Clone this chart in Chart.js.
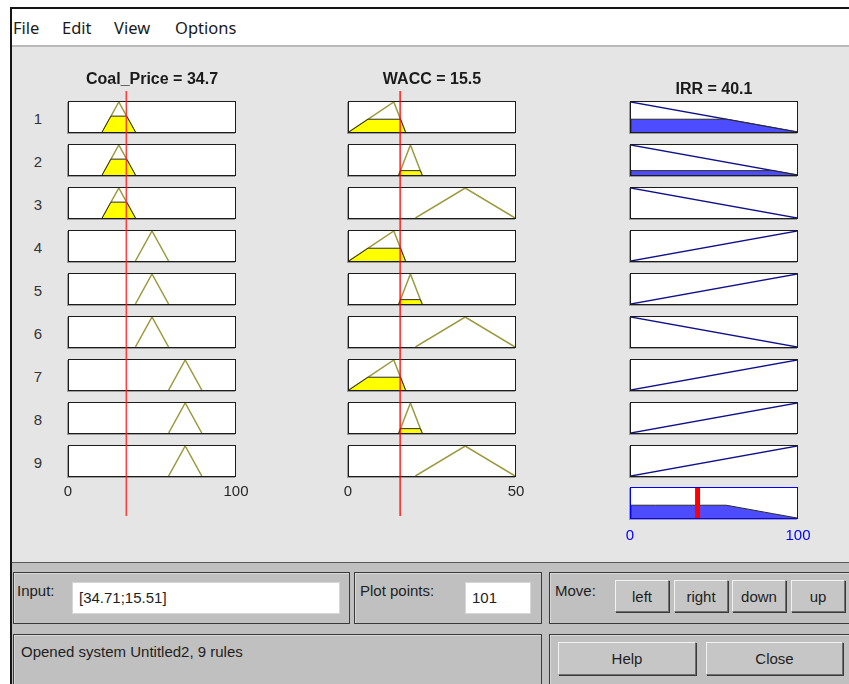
<!DOCTYPE html>
<html>
<head>
<meta charset="utf-8">
<script src="https://cdn.jsdelivr.net/npm/chart.js@4.4.0/dist/chart.umd.min.js"></script>
<style>
    html, body { margin: 0; padding: 0; }
    body {
        position: relative;
        width: 849px;
        height: 684px;
        overflow: hidden;
        background: #ffffff;
        font-family: "Liberation Sans", Arial, sans-serif;
        color: #1e1e1e;
    }
    .abs { position: absolute; }
    #frame { left: 10px; top: 7px; width: 839px; height: 677px; border-left: 2px solid #151515; border-top: 2px solid #151515; box-sizing: border-box; }
    #menu { left: 12px; top: 9px; width: 837px; height: 36px; background: #fff; border-bottom: 2px solid #b9b9b9; }
    .menu-item { top: 18px; font-family: "Noto Sans", "Open Sans", sans-serif; font-size: 16.5px; color: #1a1a1a; line-height: 20px; }
    #main { left: 12px; top: 47px; width: 837px; height: 515px; background: #e5e5e5; }
    #bottom { left: 12px; top: 562px; width: 837px; height: 122px; background: #c0c0c0; border-top: 1px solid #5a5a5a; box-sizing: border-box; }
    .rownum { width: 20px; text-align: center; font-size: 15px; color: #333; line-height: 18px; }
    .box { background: #fff; border: 1px solid #1c1c1c; box-sizing: border-box; box-shadow: -1px 1px 0 #9c9c9c; }
    .box canvas { display: block; }
    .panel { background: #c0c0c0; border: 1px solid #3a3a3a; box-sizing: border-box; box-shadow: inset 1px 1px 0 #d8d8d8; }
    .label { font-size: 15px; line-height: 18px; color: #1e1e1e; white-space: nowrap; }
    .field { background: #fff; border: 1px solid #d6d6d6; box-sizing: border-box; font-size: 15px; line-height: 29px; padding-left: 6px; white-space: nowrap; }
    .btn { background: #c6c6c6; box-sizing: border-box; border-top: 1px solid #f2f2f2; border-left: 1px solid #f2f2f2; border-right: 1px solid #6e6e6e; border-bottom: 1px solid #6e6e6e; box-shadow: 1px 1px 0 #3a3a3a; text-align: center; font-size: 15px; color: #1e1e1e; }
    canvas.overlay { pointer-events: none; }
</style>
</head>
<body>
<div id="frame" class="abs"></div>
<div id="menu" class="abs"></div>
<div class="abs menu-item" style="left:13px">File</div>
<div class="abs menu-item" style="left:62px">Edit</div>
<div class="abs menu-item" style="left:114px">View</div>
<div class="abs menu-item" style="left:175px">Options</div>
<div id="main" class="abs"></div>
<div id="bottom" class="abs"></div>
<div id="plots"></div>

<!-- 아래 패널 -->
<div class="abs panel" style="left:13px; top:572px; width:337px; height:52px"></div>
<div class="abs label" style="left:17px; top:582px">Input:</div>
<div class="abs field" style="left:72px; top:582px; width:268px; height:32px; line-height:30px">[34.71;15.51]</div>

<div class="abs panel" style="left:354px; top:572px; width:188px; height:52px"></div>
<div class="abs label" style="left:360px; top:582px">Plot points:</div>
<div class="abs field" style="left:465px; top:582px; width:66px; height:32px; line-height:30px">101</div>

<div class="abs panel" style="left:549px; top:572px; width:310px; height:52px"></div>
<div class="abs label" style="left:555px; top:582px">Move:</div>
<div class="abs btn" style="left:615px; top:580px; width:54px; height:32px; line-height:31px">left</div>
<div class="abs btn" style="left:674px; top:580px; width:54px; height:32px; line-height:31px">right</div>
<div class="abs btn" style="left:732px; top:580px; width:54px; height:32px; line-height:31px">down</div>
<div class="abs btn" style="left:791px; top:580px; width:54px; height:32px; line-height:31px">up</div>

<div class="abs panel" style="left:13px; top:634px; width:529px; height:60px"></div>
<div class="abs label" style="left:21px; top:643px">Opened system Untitled2, 9 rules</div>

<div class="abs panel" style="left:549px; top:634px; width:310px; height:60px"></div>
<div class="abs btn" style="left:558px; top:642px; width:138px; height:33px; line-height:32px">Help</div>
<div class="abs btn" style="left:706px; top:642px; width:137px; height:33px; line-height:32px">Close</div>

<script>
// 입력/출력 범위
const coalRange = [0, 100];
const waccRange = [0, 50];
const irrRange = [0, 100];

// 축 눈금
const coalTicks = [0, 100];
const waccTicks = [0, 50];
const irrTicks = [0, 100];

// 현재 입력값과 출력값
const coalInput = 34.71;
const waccInput = 15.51;
const irrOutput = 40.1;

// 멤버십 함수 (trimf)
const coalLow = [20, 30, 40];
const coalMid = [40, 50, 60];
const coalHigh = [60, 70, 80];
const waccLow = [0, 13.5, 17];
const waccMid = [15, 18.5, 22];
const waccHigh = [20, 35, 50];
const irrDown = [-100, 0, 100];
const irrUp = [0, 100, 200];

// 규칙 1~9
const ruleNumbers = [1, 2, 3, 4, 5, 6, 7, 8, 9];
const ruleCoal = ['low', 'low', 'low', 'mid', 'mid', 'mid', 'high', 'high', 'high'];
const ruleWacc = ['low', 'mid', 'high', 'low', 'mid', 'high', 'low', 'mid', 'high'];
const ruleIrr = ['down', 'down', 'down', 'up', 'up', 'down', 'up', 'up', 'up'];

const coalSets = { low: coalLow, mid: coalMid, high: coalHigh };
const waccSets = { low: waccLow, mid: waccMid, high: waccHigh };
const irrSets = { down: irrDown, up: irrUp };

// 색상
const MF_LINE = '#9c9a3e';
const MF_FILL = '#ffff00';
const OUT_LINE = '#10108a';
const OUT_FILL = '#4d4dff';
const EDGE = '#2a2a2a';

// 배치
const ROW_TOP = 101, ROW_STEP = 43, BOX_H = 32;
const COAL_X = 68, WACC_X = 348, IRR_X = 630;
const BOX_W = 168;
const AGG_TOP = 487;

Chart.defaults.font.family = '"Liberation Sans", Arial, sans-serif';
Chart.defaults.animation = false;

function trimf(p, x) {
    const [a, b, c] = p;
    if (x <= a || x >= c) return (x === b) ? 1 : 0;
    if (x <= b) return (x - a) / (b - a);
    return (c - x) / (c - b);
}

// 삼각형을 level에서 잘라낸 다각형
function clippedTri(p, level, range) {
    const [a, b, c] = p;
    const lo = Math.max(a, range[0]);
    const hi = Math.min(c, range[1]);
    const x1 = a + level * (b - a);
    const x2 = c - level * (c - b);
    return [
        { x: lo, y: 0 },
        { x: lo, y: Math.min(level, trimf(p, lo)) },
        { x: Math.max(x1, lo), y: Math.min(level, trimf(p, Math.max(x1, lo))) },
        { x: Math.min(x2, hi), y: Math.min(level, trimf(p, Math.min(x2, hi))) },
        { x: hi, y: Math.min(level, trimf(p, hi)) },
        { x: hi, y: 0 }
    ];
}

// 삼각형 부분만 선으로 (범위 밖은 잘라냄)
function mfLine(p, range) {
    const lo = Math.max(p[0], range[0]);
    const hi = Math.min(p[2], range[1]);
    const xs = [lo, ...p.filter(v => v > lo && v < hi), hi];
    return xs.map(x => ({ x: x, y: trimf(p, x) }));
}

function makeBox(left, top, range, datasets, border) {
    const box = document.createElement('div');
    box.className = 'abs box';
    box.style.left = left + 'px';
    box.style.top = top + 'px';
    box.style.width = BOX_W + 'px';
    box.style.height = BOX_H + 'px';
    if (border) box.style.borderColor = border;
    const canvas = document.createElement('canvas');
    canvas.width = BOX_W - 2;
    canvas.height = BOX_H - 2;
    box.appendChild(canvas);
    document.getElementById('plots').appendChild(box);

    new Chart(canvas, {
        type: 'line',
        data: { datasets: datasets },
        options: {
            responsive: false,
            events: [],
            layout: { padding: 0 },
            plugins: { legend: { display: false }, tooltip: { enabled: false } },
            elements: { point: { radius: 0 }, line: { tension: 0 } },
            scales: {
                x: { type: 'linear', min: range[0], max: range[1], display: false },
                y: { min: 0, max: 1, display: false }
            }
        }
    });
}

// 입력 열의 빨간 선
const inputLinePlugin = {
    id: 'inputLine',
    afterDraw(chart, args, opts) {
        if (opts.value == null) return;
        const x = chart.scales.x.getPixelForValue(opts.value);
        const ctx = chart.ctx;
        ctx.save();
        ctx.strokeStyle = opts.color;
        ctx.lineWidth = opts.width;
        ctx.beginPath();
        ctx.moveTo(x, opts.from);
        ctx.lineTo(x, opts.to);
        ctx.stroke();
        ctx.restore();
    }
};

function makeOverlay(left, top, height, range, ticks, title, opts) {
    const canvas = document.createElement('canvas');
    canvas.className = 'abs overlay';
    canvas.width = BOX_W + 80;
    canvas.height = height;
    canvas.style.left = (left - 40) + 'px';
    canvas.style.top = top + 'px';
    document.getElementById('plots').appendChild(canvas);

    new Chart(canvas, {
        type: 'line',
        data: { datasets: [] },
        plugins: [inputLinePlugin],
        options: {
            responsive: false,
            events: [],
            layout: { padding: { left: 40, right: 40, top: 0, bottom: opts.padBottom } },
            plugins: {
                legend: { display: false },
                tooltip: { enabled: false },
                title: {
                    display: true,
                    text: title,
                    color: '#1a1a1a',
                    font: { size: 16, weight: 'bold' },
                    padding: { top: opts.titleTop, bottom: 10 }
                },
                inputLine: opts.line || {}
            },
            scales: {
                x: {
                    type: 'linear', min: range[0], max: range[1],
                    afterBuildTicks: s => { s.ticks = ticks.map(v => ({ value: v })); },
                    grid: { display: false, drawTicks: false },
                    border: { display: false },
                    ticks: { padding: 7, color: opts.tickColor, font: { size: 15 }, maxRotation: 0, autoSkip: false }
                },
                y: { min: 0, max: 1, display: false }
            }
        }
    });
}

// 규칙 번호
ruleNumbers.forEach((n, i) => {
    const d = document.createElement('div');
    d.className = 'abs rownum';
    d.style.left = '28px';
    d.style.top = (ROW_TOP + ROW_STEP * i + 9) + 'px';
    d.textContent = n;
    document.getElementById('plots').appendChild(d);
});

const firing = [];
ruleNumbers.forEach((n, i) => {
    const top = ROW_TOP + ROW_STEP * i;
    const cp = coalSets[ruleCoal[i]];
    const wp = waccSets[ruleWacc[i]];
    const op = irrSets[ruleIrr[i]];
    const cDeg = trimf(cp, coalInput);
    const wDeg = trimf(wp, waccInput);
    const level = Math.min(cDeg, wDeg);
    firing.push(level);

    const coalDs = [];
    if (cDeg > 0) coalDs.push({ data: clippedTri(cp, cDeg, coalRange), fill: 'origin', backgroundColor: MF_FILL, borderColor: EDGE, borderWidth: 1 });
    coalDs.push({ data: mfLine(cp, coalRange), borderColor: MF_LINE, borderWidth: 1.5, fill: false });
    makeBox(COAL_X, top, coalRange, coalDs);

    const waccDs = [];
    if (wDeg > 0) waccDs.push({ data: clippedTri(wp, wDeg, waccRange), fill: 'origin', backgroundColor: MF_FILL, borderColor: EDGE, borderWidth: 1 });
    waccDs.push({ data: mfLine(wp, waccRange), borderColor: MF_LINE, borderWidth: 1.5, fill: false });
    makeBox(WACC_X, top, waccRange, waccDs);

    const irrDs = [];
    if (level > 0) irrDs.push({ data: clippedTri(op, level, irrRange), fill: 'origin', backgroundColor: OUT_FILL, borderColor: EDGE, borderWidth: 1 });
    irrDs.push({ data: mfLine(op, irrRange), borderColor: OUT_LINE, borderWidth: 1.3, fill: false });
    makeBox(IRR_X, top, irrRange, irrDs);
});

// 출력 합성 (max-min)
function aggregate(x) {
    let m = 0;
    ruleIrr.forEach((k, i) => { m = Math.max(m, Math.min(trimf(irrSets[k], x), firing[i])); });
    return m;
}
const breaks = new Set([irrRange[0], irrRange[1]]);
ruleIrr.forEach((k, i) => {
    const p = irrSets[k];
    firing.forEach(l => {
        if (l <= 0) return;
        [p[0] + l * (p[1] - p[0]), p[2] - l * (p[2] - p[1])].forEach(x => {
            if (x > irrRange[0] && x < irrRange[1]) breaks.add(x);
        });
    });
});
const aggX = [...breaks].sort((a, b) => a - b);
const aggData = [{ x: irrRange[0], y: 0 }, ...aggX.map(x => ({ x: x, y: aggregate(x) })), { x: irrRange[1], y: 0 }];

makeBox(IRR_X, AGG_TOP, irrRange, [
    { data: [{ x: irrOutput, y: 0 }, { x: irrOutput, y: 1 }], borderColor: '#ff0000', borderWidth: 5, fill: false },
    { data: aggData, fill: 'origin', backgroundColor: OUT_FILL, borderColor: EDGE, borderWidth: 1 }
], '#0000ff');

// 제목, 눈금, 빨간 선
makeOverlay(COAL_X, 60, 460, coalRange, coalTicks, 'Coal_Price = ' + coalInput.toFixed(1),
    { padBottom: 12, titleTop: 10, tickColor: '#262626', line: { value: coalInput, from: 31, to: 456, color: 'rgba(255,30,30,0.85)', width: 1.5 } });
makeOverlay(WACC_X, 60, 460, waccRange, waccTicks, 'WACC = ' + waccInput.toFixed(1),
    { padBottom: 12, titleTop: 10, tickColor: '#262626', line: { value: waccInput, from: 31, to: 456, color: '#ff0000', width: 1.3 } });
makeOverlay(IRR_X, 60, 492, irrRange, irrTicks, 'IRR = ' + irrOutput.toFixed(1),
    { padBottom: 0, titleTop: 20, tickColor: '#0000ff' });
</script>
</body>
</html>
